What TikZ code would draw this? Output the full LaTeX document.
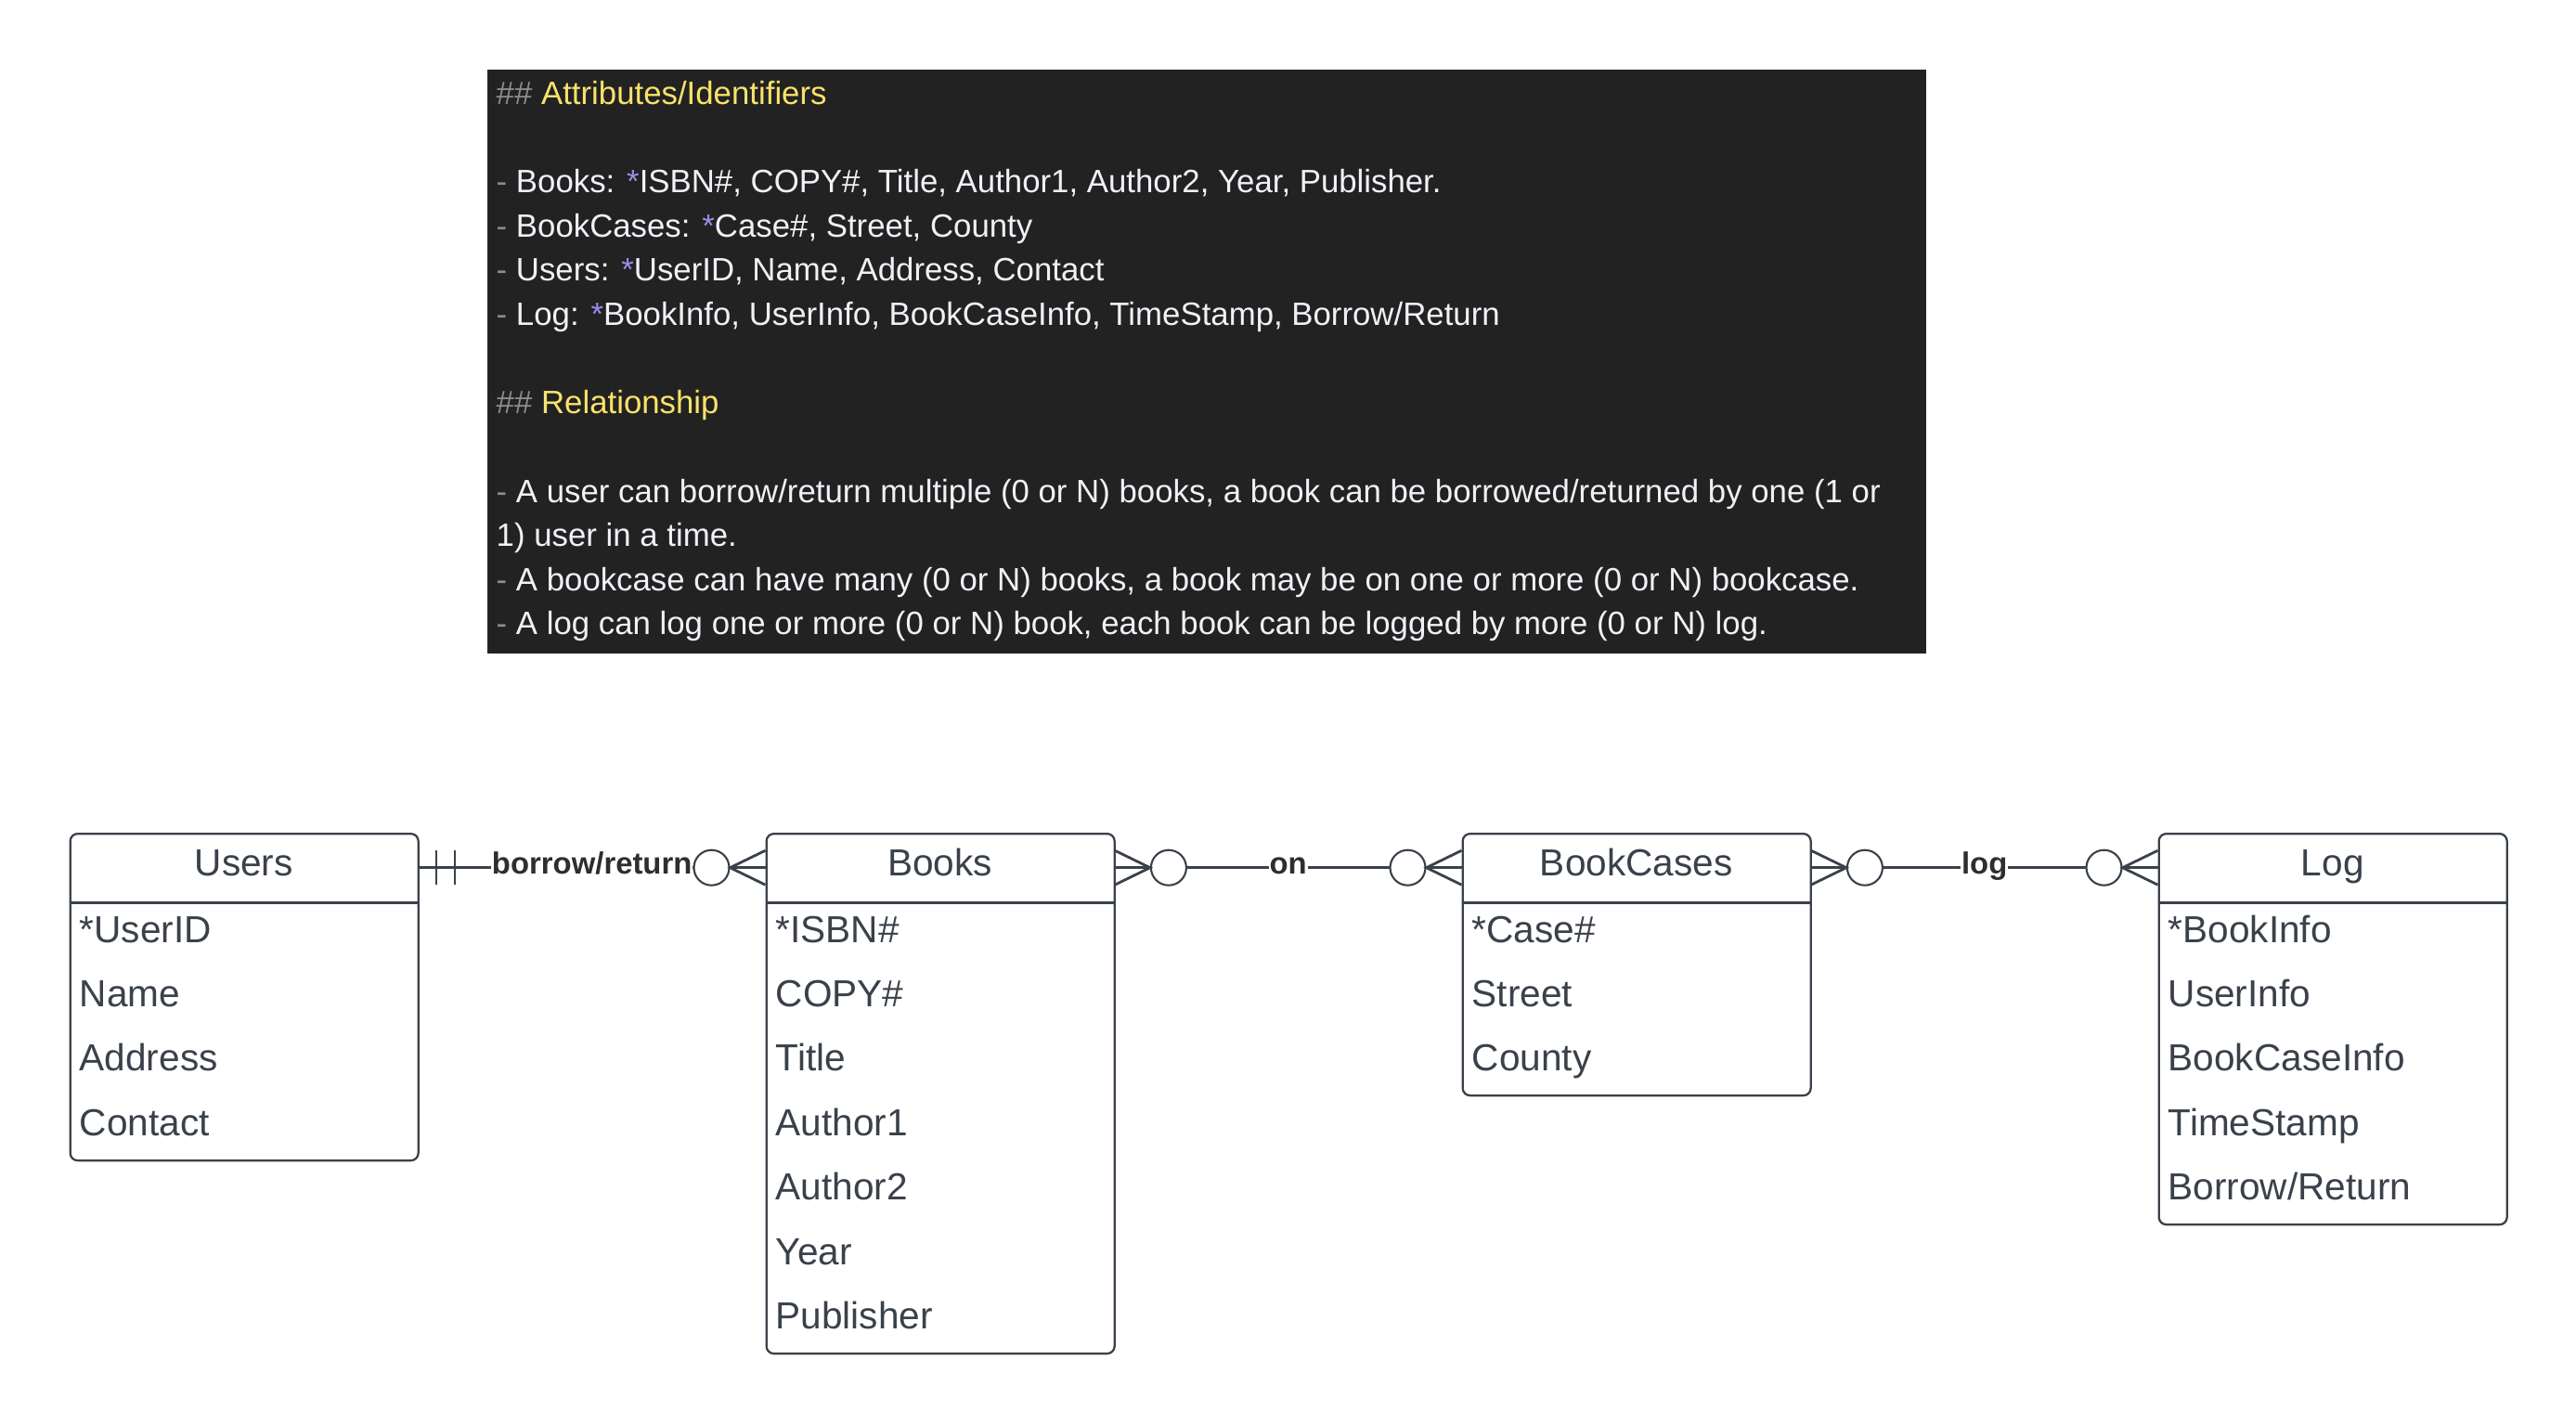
\documentclass[tikz,border=0pt]{standalone}
\usepackage{fontspec}
\setmainfont{Liberation Sans}
\usepackage{tikz}

\definecolor{erdark}{HTML}{3A414A}
\definecolor{erlabel}{HTML}{2E2E2E}
\definecolor{notebg}{HTML}{222222}
\definecolor{notetxt}{HTML}{F2F0F7}
\definecolor{notegray}{HTML}{8C8C8C}
\definecolor{noteyel}{HTML}{FAE26A}
\definecolor{notestar}{HTML}{9D8CEB}

\begin{document}
\begin{tikzpicture}[
        entity/.style={draw=erdark, line width=0.65pt, rounded corners=0.08cm, minimum width=3.75cm, inner sep=0, anchor=north west},
        ehead/.style={minimum width=3.75cm, minimum height=0.74cm, text height=0.27cm, text depth=0.1cm, inner sep=0, anchor=north west, text=erdark, font=\fontsize{11.55}{13}\selectfont},
        attr/.style={anchor=base west, inner sep=0, text=erdark, font=\fontsize{11.55}{13}\selectfont},
        rel/.style={fill=white, inner sep=0.3pt, text height=0.23cm, text depth=0.09cm, text=erlabel, font=\fontsize{9.35}{11}\selectfont\bfseries},
        zero/.style={circle, draw=erdark, line width=0.6pt, fill=white, minimum size=0.38cm, inner sep=0},
        erline/.style={draw=erdark, line width=0.8pt}
    ]
        \useasboundingbox (0,0) rectangle (27.75,-15.34);

        % notes
        \fill[notebg] (5.25,-0.75) rectangle (20.75,-7.04);
        \node[anchor=north west, inner sep=0, align=left, text=notetxt, font=\fontsize{9.9}{13.55}\selectfont] (notes) at (5.34,-0.865) {
            {\color{notegray}\#\#} {\color{noteyel}Attributes/Identifiers}\\[13.55pt]
            {\color{notegray}-} Books: {\color{notestar}*}ISBN\#, COPY\#, Title, Author1, Author2, Year, Publisher.\\
            {\color{notegray}-} BookCases: {\color{notestar}*}Case\#, Street, County\\
            {\color{notegray}-} Users: {\color{notestar}*}UserID, Name, Address, Contact\\
            {\color{notegray}-} Log: {\color{notestar}*}BookInfo, UserInfo, BookCaseInfo, TimeStamp, Borrow/Return\\[13.55pt]
            {\color{notegray}\#\#} {\color{noteyel}Relationship}\\[13.55pt]
            {\color{notegray}-} A user can borrow/return multiple (0 or N) books, a book can be borrowed/returned by one (1 or\\
            1) user in a time.\\
            {\color{notegray}-} A bookcase can have many (0 or N) books, a book may be on one or more (0 or N) bookcase.\\
            {\color{notegray}-} A log can log one or more (0 or N) book, each book can be logged by more (0 or N) log.};

        % Users
        \node[entity, minimum height=3.52cm] (users) at (0.745,-8.97) {};
        \node[ehead] (usersh) at (users.north west) {Users};
        \draw[erline] (usersh.south west) -- (usersh.south east);
        \node[attr] (u1) at (0.85,-10.15) {*UserID};
        \node[attr] (u2) at (0.85,-10.844) {Name};
        \node[attr] (u3) at (0.85,-11.538) {Address};
        \node[attr] (u4) at (0.85,-12.232) {Contact};

        % Books
        \node[entity, minimum height=5.60cm] (books) at (8.245,-8.97) {};
        \node[ehead] (booksh) at (books.north west) {Books};
        \draw[erline] (booksh.south west) -- (booksh.south east);
        \node[attr] (b1) at (8.35,-10.15) {*ISBN\#};
        \node[attr] (b2) at (8.35,-10.844) {COPY\#};
        \node[attr] (b3) at (8.35,-11.538) {Title};
        \node[attr] (b4) at (8.35,-12.232) {Author1};
        \node[attr] (b5) at (8.35,-12.926) {Author2};
        \node[attr] (b6) at (8.35,-13.62) {Year};
        \node[attr] (b7) at (8.35,-14.314) {Publisher};

        % BookCases
        \node[entity, minimum height=2.82cm] (cases) at (15.745,-8.97) {};
        \node[ehead] (casesh) at (cases.north west) {BookCases};
        \draw[erline] (casesh.south west) -- (casesh.south east);
        \node[attr] (c1) at (15.85,-10.15) {*Case\#};
        \node[attr] (c2) at (15.85,-10.844) {Street};
        \node[attr] (c3) at (15.85,-11.538) {County};

        % Log
        \node[entity, minimum height=4.21cm] (log) at (23.245,-8.97) {};
        \node[ehead] (logh) at (log.north west) {Log};
        \draw[erline] (logh.south west) -- (logh.south east);
        \node[attr] (l1) at (23.35,-10.15) {*BookInfo};
        \node[attr] (l2) at (23.35,-10.844) {UserInfo};
        \node[attr] (l3) at (23.35,-11.538) {BookCaseInfo};
        \node[attr] (l4) at (23.35,-12.232) {TimeStamp};
        \node[attr] (l5) at (23.35,-12.926) {Borrow/Return};

        % Users -- Books
        \draw[erline] (usersh.east) -- node[rel] (borrow) {borrow/return} (booksh.west);
        \draw[erline] ([xshift=0.19cm,yshift=0.185cm]usersh.east) -- ([xshift=0.19cm,yshift=-0.185cm]usersh.east);
        \draw[erline] ([xshift=0.39cm,yshift=0.185cm]usersh.east) -- ([xshift=0.39cm,yshift=-0.185cm]usersh.east);
        \node[zero] (z1) at ([xshift=-0.58cm]booksh.west) {};
        \draw[erline] ([yshift=0.185cm]booksh.west) -- (z1.east) -- ([yshift=-0.185cm]booksh.west);

        % Books -- BookCases
        \draw[erline] (booksh.east) -- node[rel] (on) {on} (casesh.west);
        \node[zero] (z2) at ([xshift=0.58cm]booksh.east) {};
        \draw[erline] ([yshift=0.185cm]booksh.east) -- (z2.west) -- ([yshift=-0.185cm]booksh.east);
        \node[zero] (z3) at ([xshift=-0.58cm]casesh.west) {};
        \draw[erline] ([yshift=0.185cm]casesh.west) -- (z3.east) -- ([yshift=-0.185cm]casesh.west);

        % BookCases -- Log
        \draw[erline] (casesh.east) -- node[rel] (logs) {log} (logh.west);
        \node[zero] (z4) at ([xshift=0.58cm]casesh.east) {};
        \draw[erline] ([yshift=0.185cm]casesh.east) -- (z4.west) -- ([yshift=-0.185cm]casesh.east);
        \node[zero] (z5) at ([xshift=-0.58cm]logh.west) {};
        \draw[erline] ([yshift=0.185cm]logh.west) -- (z5.east) -- ([yshift=-0.185cm]logh.west);
    \end{tikzpicture}
\end{document}
